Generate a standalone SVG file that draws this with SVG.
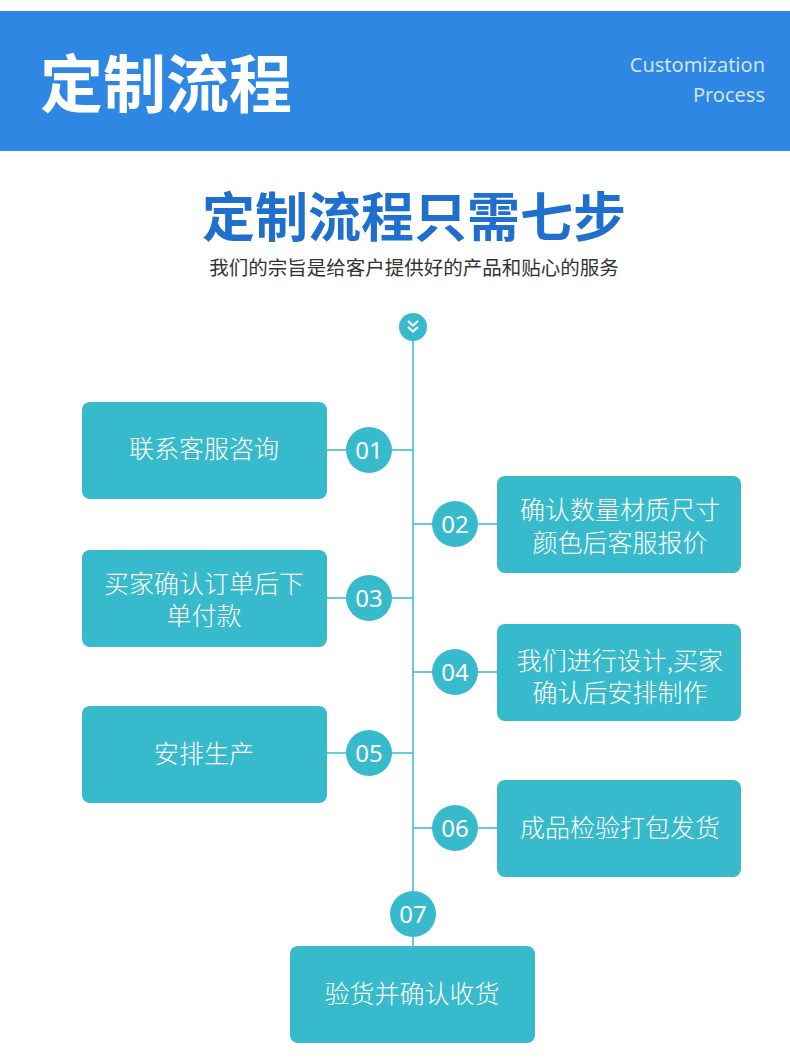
<svg xmlns="http://www.w3.org/2000/svg" width="790" height="1058" viewBox="0 0 790 1058">
<style>
.box{fill:#38bacd}
.dot{fill:#38bacd}
.lbl{font-family:"Noto Sans CJK SC","Noto Sans",sans-serif;font-size:25px;fill:#ffffff;font-weight:300;text-anchor:middle}
.num{font-family:"Noto Sans","Open Sans",sans-serif;font-size:24px;fill:#ffffff;text-anchor:middle}
.ln{stroke:#38bacd;stroke-width:1.5;fill:none}
</style>
<rect width="790" height="1058" fill="#ffffff"/>
<g id="header">
<rect x="0" y="11" width="790" height="140" fill="#2e87e2"/>
<text x="40" y="107" font-family="'Noto Sans CJK SC',sans-serif" font-weight="700" font-size="63" fill="#ffffff">定制流程</text>
<text x="765" y="72" font-family="'Noto Sans','Open Sans',sans-serif" font-size="20" fill="#d2e3f8" text-anchor="end">Customization</text>
<text x="765" y="102" font-family="'Noto Sans','Open Sans',sans-serif" font-size="20" fill="#d2e3f8" text-anchor="end">Process</text>
</g>
<g id="title">
<text x="414" y="237" font-family="'Noto Sans CJK SC',sans-serif" font-weight="700" font-size="53" fill="#1f6fce" text-anchor="middle">定制流程只需七步</text>
<text x="414" y="275" font-family="'Noto Sans CJK SC',sans-serif" font-size="19.5" fill="#333333" text-anchor="middle">我们的宗旨是给客户提供好的产品和贴心的服务</text>
</g>
<g id="connectors">
<line class="ln" x1="413" y1="340" x2="413" y2="946"/>
<line class="ln" x1="327" y1="450" x2="413" y2="450"/>
<line class="ln" x1="413" y1="524" x2="497" y2="524"/>
<line class="ln" x1="327" y1="598" x2="413" y2="598"/>
<line class="ln" x1="413" y1="672" x2="497" y2="672"/>
<line class="ln" x1="327" y1="753" x2="413" y2="753"/>
<line class="ln" x1="413" y1="828" x2="497" y2="828"/>
</g>
<g id="start">
<circle class="dot" cx="413" cy="327" r="14"/>
<path d="M408 321 L413 325.5 L418 321 M408 327 L413 331.5 L418 327" stroke="#ffffff" stroke-width="2.2" fill="none"/>
</g>
<g id="step1">
<rect class="box" x="82" y="402" width="245" height="97" rx="8"/>
<text class="lbl" x="204" y="458">联系客服咨询</text>
<circle class="dot" cx="369" cy="450" r="23"/>
<text class="num" x="369" y="459">01</text>
</g>
<g id="step2">
<rect class="box" x="497" y="476" width="244" height="97" rx="8"/>
<text class="lbl"><tspan x="620" y="519">确认数量材质尺寸</tspan><tspan x="620" y="552">颜色后客服报价</tspan></text>
<circle class="dot" cx="455" cy="524" r="23"/>
<text class="num" x="455" y="533">02</text>
</g>
<g id="step3">
<rect class="box" x="82" y="550" width="245" height="97" rx="8"/>
<text class="lbl"><tspan x="204" y="593">买家确认订单后下</tspan><tspan x="204" y="625">单付款</tspan></text>
<circle class="dot" cx="369" cy="598" r="23"/>
<text class="num" x="369" y="607">03</text>
</g>
<g id="step4">
<rect class="box" x="497" y="624" width="244" height="97" rx="8"/>
<text class="lbl"><tspan x="620" y="670">我们进行设计,买家</tspan><tspan x="620" y="702">确认后安排制作</tspan></text>
<circle class="dot" cx="455" cy="672" r="23"/>
<text class="num" x="455" y="681">04</text>
</g>
<g id="step5">
<rect class="box" x="82" y="706" width="245" height="97" rx="8"/>
<text class="lbl" x="204" y="763">安排生产</text>
<circle class="dot" cx="369" cy="753" r="23"/>
<text class="num" x="369" y="762">05</text>
</g>
<g id="step6">
<rect class="box" x="497" y="780" width="244" height="97" rx="8"/>
<text class="lbl" x="620" y="837">成品检验打包发货</text>
<circle class="dot" cx="455" cy="828" r="23"/>
<text class="num" x="455" y="837">06</text>
</g>
<g id="step7">
<circle class="dot" cx="413" cy="914" r="23"/>
<text class="num" x="413" y="923">07</text>
<rect class="box" x="290" y="946" width="245" height="97" rx="8"/>
<text class="lbl" x="412" y="1003">验货并确认收货</text>
</g>
</svg>
